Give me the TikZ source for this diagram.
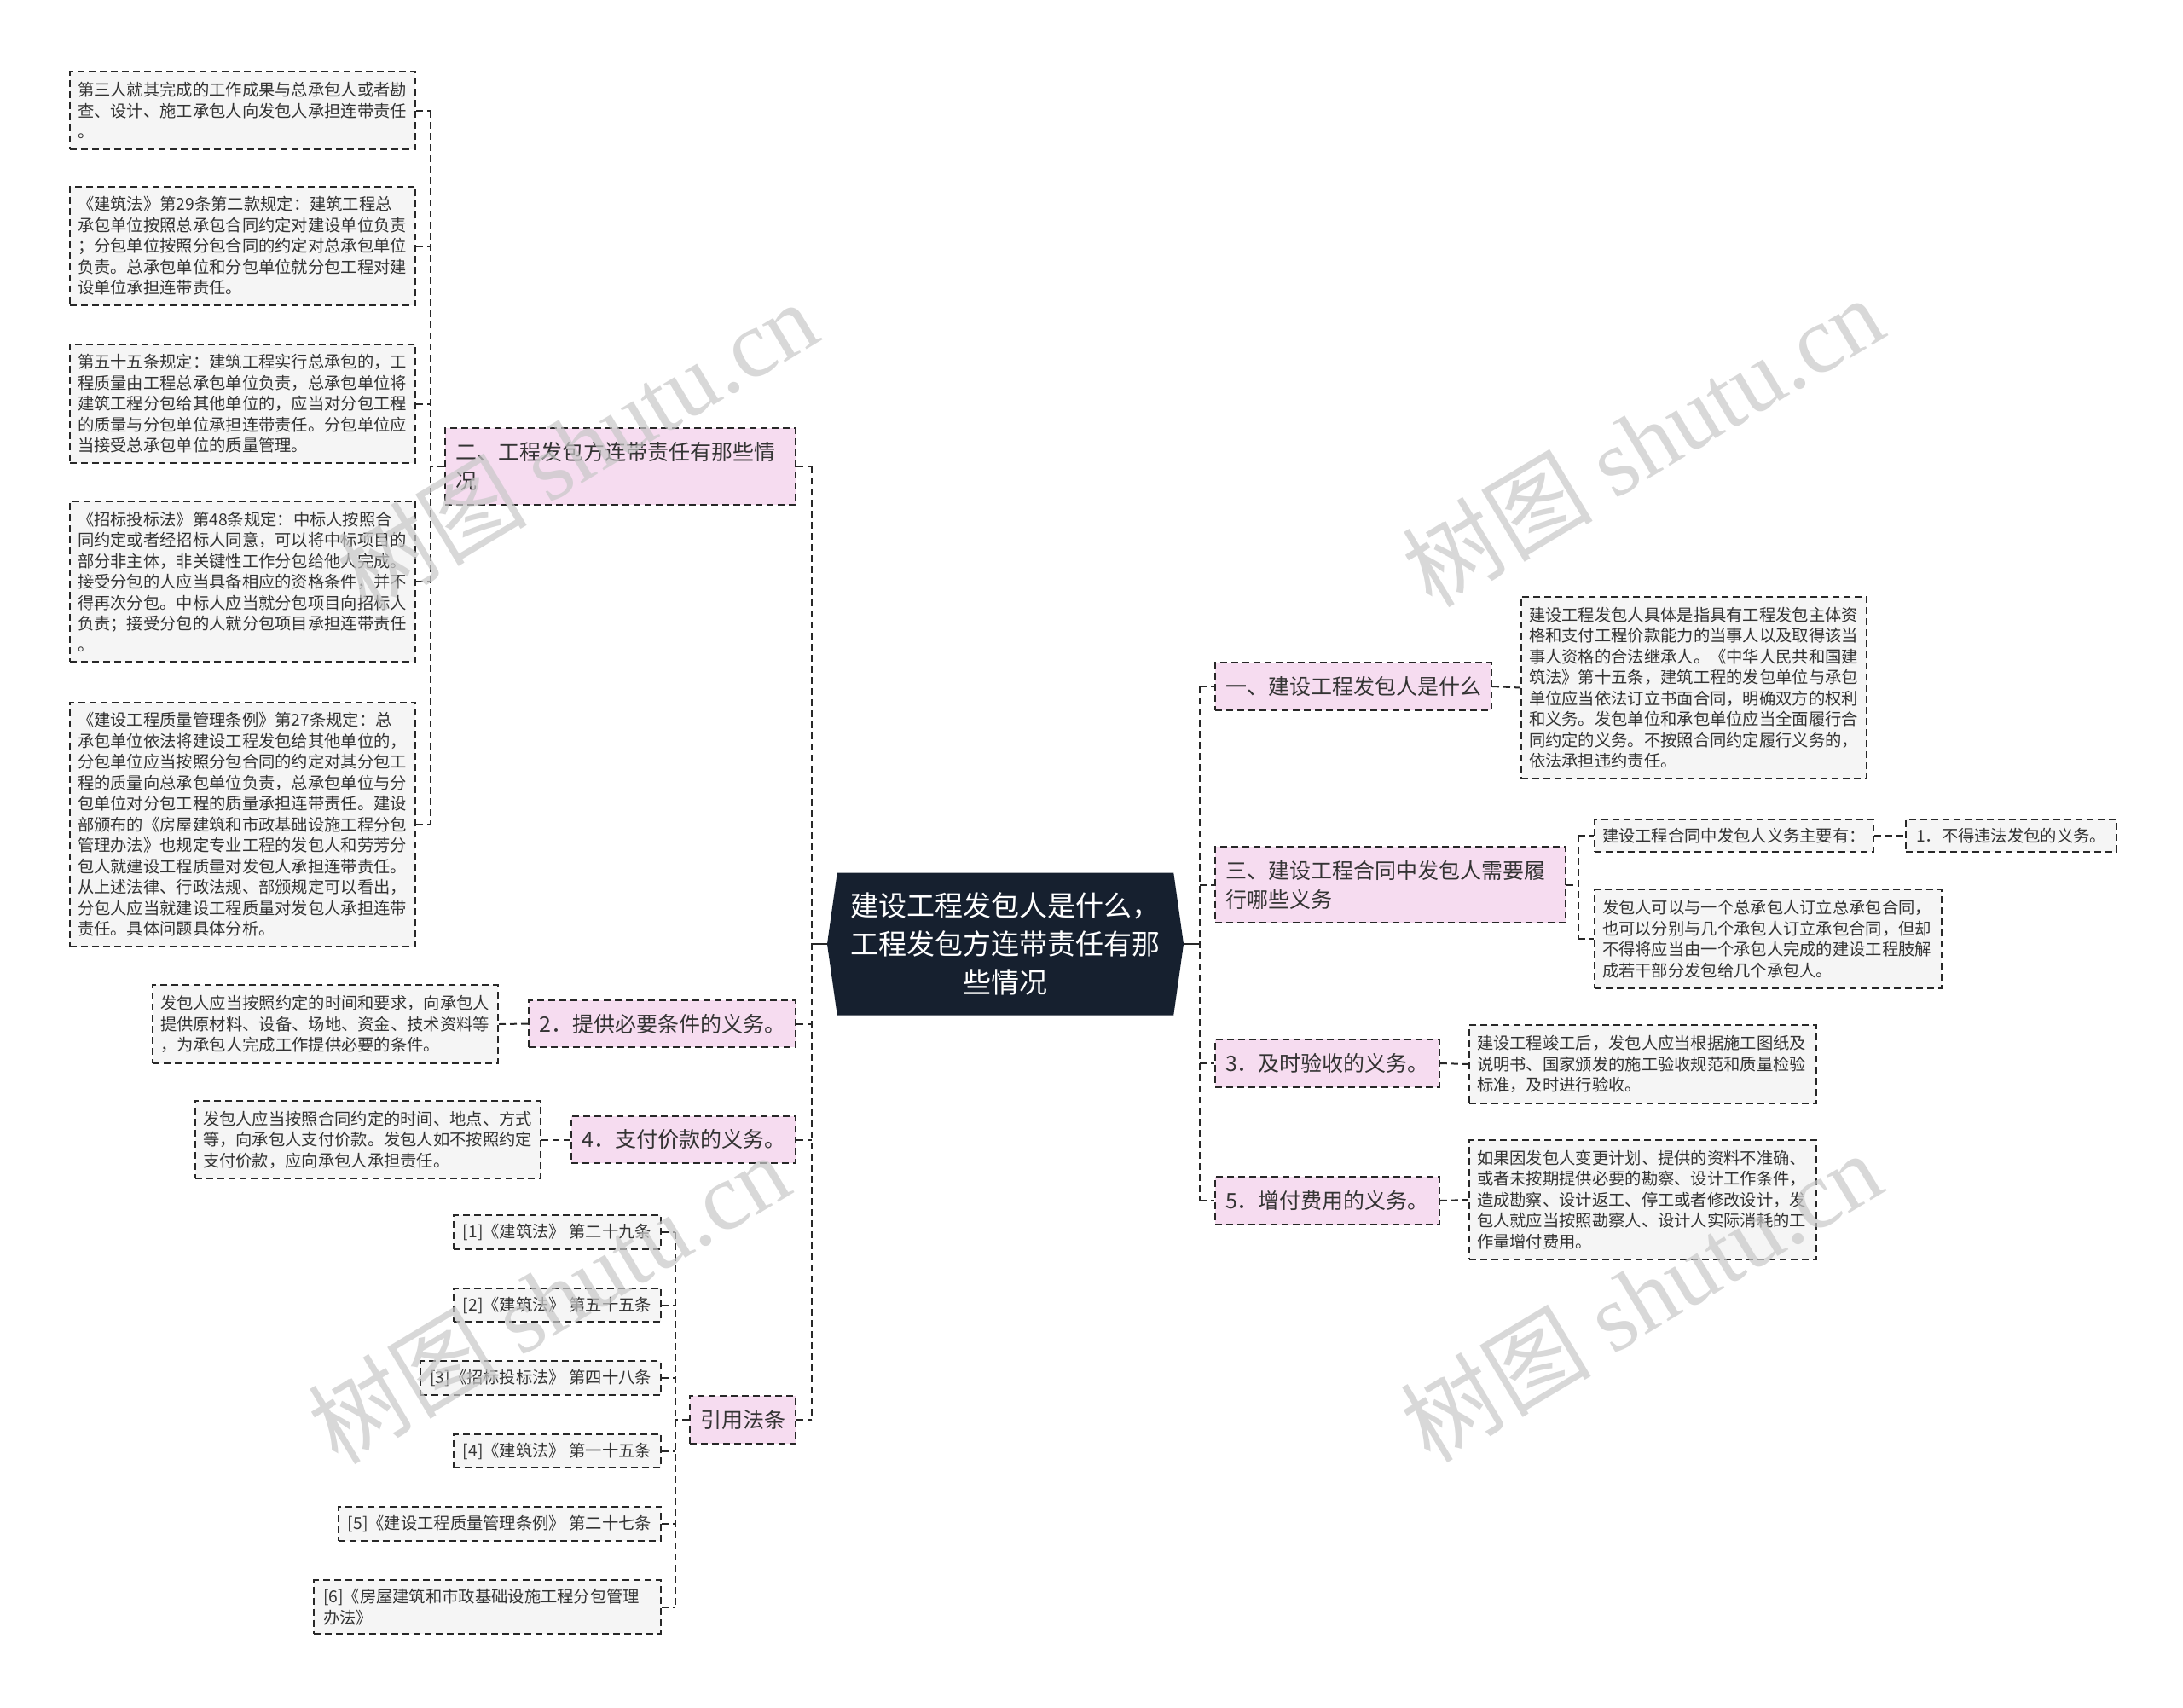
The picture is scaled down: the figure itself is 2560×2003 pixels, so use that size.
\documentclass[tikz,border=0pt]{standalone}
\usepackage{fontspec}
\newfontfamily\cjk{Noto Sans CJK SC}
\newfontfamily\latinserif{Liberation Serif}
\usetikzlibrary{shapes.symbols}

\definecolor{hubfill}{RGB}{22,32,47}
\definecolor{topicfill}{RGB}{246,220,240}
\definecolor{notefill}{RGB}{245,245,245}
\definecolor{linecol}{RGB}{40,40,40}
\definecolor{ink}{RGB}{51,51,51}
\definecolor{wmgray}{RGB}{200,200,200}

\begin{document}
\begin{tikzpicture}[x = 1pt, y = -1pt,
  link/.style = {draw = linecol, line width = 2pt, dash pattern = on 8pt off 5pt},
  dashbox/.style = {link, text = ink, align = left},
  topic/.style = {dashbox, fill = topicfill, font = \cjk\fontsize{25}{34}\selectfont,
  inner xsep = 12pt, inner ysep = 16pt},
  note/.style = {dashbox, fill = notefill, font = \cjk\fontsize{19.3}{24.5}\selectfont,
  inner xsep = 9pt, inner ysep = 12pt},
  slim/.style = {note, inner ysep = 10pt},
  wmark/.style = {text = wmgray, opacity = .7, rotate = 31,
  font = \cjk\fontsize{112}{112}\selectfont}]
  \fill[white] (0, 0) rectangle (2560, 2003);
  \useasboundingbox (0, 0) rectangle (2560, 2003);

  \node[signal, signal to = west and east, signal pointer angle = 164,
  fill = hubfill, text = white, font = \cjk\fontsize{33}{45}\selectfont,
  align = center, minimum width = 418pt, minimum height = 167pt,
  inner sep = 0pt] (C) at (1179, 1107)
  {建设工程发包人是什么，\\工程发包方连带责任有那\\些情况};

  \coordinate (TL) at (952, 0);
  \coordinate (TR) at (1407, 0);
  \coordinate (T1) at (505, 0);
  \coordinate (T4) at (792, 0);
  \coordinate (T2) at (1851, 0);

  % left side
  \node[topic, anchor = east, text width = 387pt] (L1) at (934, 547)
  {二、工程发包方连带责任有那些情\\况};
  \node[note, anchor = east, text width = 387pt] (L1T1) at (488, 129.5)
  {第三人就其完成的工作成果与总承包人或者勘\\查、设计、施工承包人向发包人承担连带责任\\。};
  \node[note, anchor = east, text width = 387pt] (L1T2) at (488, 288.5)
  {《建筑法》第29条第二款规定：建筑工程总\\承包单位按照总承包合同约定对建设单位负责\\；分包单位按照分包合同的约定对总承包单位\\负责。总承包单位和分包单位就分包工程对建\\设单位承担连带责任。};
  \node[note, anchor = east, text width = 387pt] (L1T3) at (488, 473.5)
  {第五十五条规定：建筑工程实行总承包的，工\\程质量由工程总承包单位负责，总承包单位将\\建筑工程分包给其他单位的，应当对分包工程\\的质量与分包单位承担连带责任。分包单位应\\当接受总承包单位的质量管理。};
  \node[note, anchor = east, text width = 387pt] (L1T4) at (488, 682)
  {《招标投标法》第48条规定：中标人按照合\\同约定或者经招标人同意，可以将中标项目的\\部分非主体，非关键性工作分包给他人完成。\\接受分包的人应当具备相应的资格条件，并不\\得再次分包。中标人应当就分包项目向招标人\\负责；接受分包的人就分包项目承担连带责任\\。};
  \node[note, anchor = east, text width = 387pt] (L1T5) at (488, 967)
  {《建设工程质量管理条例》第27条规定：总\\承包单位依法将建设工程发包给其他单位的，\\分包单位应当按照分包合同的约定对其分包工\\程的质量向总承包单位负责，总承包单位与分\\包单位对分包工程的质量承担连带责任。建设\\部颁布的《房屋建筑和市政基础设施工程分包\\管理办法》也规定专业工程的发包人和劳芳分\\包人就建设工程质量对发包人承担连带责任。\\从上述法律、行政法规、部颁规定可以看出，\\分包人应当就建设工程质量对发包人承担连带\\责任。具体问题具体分析。};

  \node[topic, anchor = east] (L2) at (934, 1200.5) {2．提供必要条件的义务。};
  \node[note, anchor = east, text width = 387pt] (L2T) at (585, 1201)
  {发包人应当按照约定的时间和要求，向承包人\\提供原材料、设备、场地、资金、技术资料等\\，为承包人完成工作提供必要的条件。};

  \node[topic, anchor = east] (L3) at (934, 1336.5) {4．支付价款的义务。};
  \node[note, anchor = east, text width = 387pt] (L3T) at (635, 1336.5)
  {发包人应当按照合同约定的时间、地点、方式\\等，向承包人支付价款。发包人如不按照约定\\支付价款，应向承包人承担责任。};

  \node[topic, anchor = east] (L4) at (934, 1665) {引用法条};
  \node[slim, anchor = east, inner xsep = 11pt] (L4T1) at (776, 1445) {[1]《建筑法》 第二十九条};
  \node[slim, anchor = east, inner xsep = 11pt] (L4T2) at (776, 1530.5) {[2]《建筑法》 第五十五条};
  \node[slim, anchor = east, inner xsep = 11pt] (L4T3) at (776, 1616) {[3]《招标投标法》 第四十八条};
  \node[slim, anchor = east, inner xsep = 11pt] (L4T4) at (776, 1701.5) {[4]《建筑法》 第一十五条};
  \node[slim, anchor = east, inner xsep = 11pt] (L4T5) at (776, 1787) {[5]《建设工程质量管理条例》 第二十七条};
  \node[slim, anchor = east, inner xsep = 11pt, text width = 385pt] (L4T6) at (776, 1884.5)
  {[6]《房屋建筑和市政基础设施工程分包管理\\办法》};

  % right side
  \node[topic, anchor = west] (R1) at (1424, 805) {一、建设工程发包人是什么};
  \node[note, anchor = west, text width = 387pt] (R1T) at (1783, 806.5)
  {建设工程发包人具体是指具有工程发包主体资\\格和支付工程价款能力的当事人以及取得该当\\事人资格的合法继承人。《中华人民共和国建\\筑法》第十五条，建筑工程的发包单位与承包\\单位应当依法订立书面合同，明确双方的权利\\和义务。发包单位和承包单位应当全面履行合\\同约定的义务。不按照合同约定履行义务的，\\依法承担违约责任。};

  \node[topic, anchor = west, text width = 387pt] (R2) at (1424, 1037.5)
  {三、建设工程合同中发包人需要履\\行哪些义务};
  \node[slim, anchor = west] (R2S1) at (1869, 980) {建设工程合同中发包人义务主要有：};
  \node[slim, anchor = west, inner xsep = 12pt] (R2S1a) at (2234, 980) {1．不得违法发包的义务。};
  \node[note, anchor = west, text width = 389pt] (R2S2) at (1869, 1101)
  {发包人可以与一个总承包人订立总承包合同，\\也可以分别与几个承包人订立承包合同，但却\\不得将应当由一个承包人完成的建设工程肢解\\成若干部分发包给几个承包人。};

  \node[topic, anchor = west] (R3) at (1424, 1247) {3．及时验收的义务。};
  \node[note, anchor = west, text width = 389pt] (R3T) at (1722, 1248)
  {建设工程竣工后，发包人应当根据施工图纸及\\说明书、国家颁发的施工验收规范和质量检验\\标准，及时进行验收。};

  \node[topic, anchor = west] (R4) at (1424, 1408) {5．增付费用的义务。};
  \node[note, anchor = west, text width = 389pt] (R4T) at (1722, 1407)
  {如果因发包人变更计划、提供的资料不准确、\\或者未按期提供必要的勘察、设计工作条件，\\造成勘察、设计返工、停工或者修改设计，发\\包人就应当按照勘察人、设计人实际消耗的工\\作量增付费用。};

  % connectors
  \draw[draw = linecol, line width = 2pt] (C.west) -- (C.west -| TL);
  \draw[draw = linecol, line width = 2pt] (C.east) -- (C.east -| TR);
  \draw[link] (L1.east -| TL) -- (L4.east -| TL);
  \draw[link] (R1.west -| TR) -- (R4.west -| TR);
  \foreach \n in {L1, L2, L3, L4}
    \draw[link] (\n.east) -- (\n.east -| TL);
  \foreach \n in {R1, R2, R3, R4}
    \draw[link] (\n.west -| TR) -- (\n.west);

  \draw[link] (L1.west) -- (L1.west -| T1);
  \draw[link] (L1T1.east -| T1) -- (L1T5.east -| T1);
  \foreach \n in {L1T1, L1T2, L1T3, L1T4, L1T5}
    \draw[link] (\n.east) -- (\n.east -| T1);

  \draw[link] (L4.west) -- (L4.west -| T4);
  \draw[link] (L4T1.east -| T4) -- (L4T6.east -| T4);
  \foreach \n in {L4T1, L4T2, L4T3, L4T4, L4T5, L4T6}
    \draw[link] (\n.east) -- (\n.east -| T4);

  \draw[link] (R2.east) -- (R2.east -| T2);
  \draw[link] (R2S1.west -| T2) -- (R2S2.west -| T2);
  \foreach \n in {R2S1, R2S2}
    \draw[link] (\n.west -| T2) -- (\n.west);

  \draw[link] (L2T.east) -- (L2.west);
  \draw[link] (L3T.east) -- (L3.west);
  \draw[link] (R1.east) -- (R1T.west);
  \draw[link] (R2S1.east) -- (R2S1a.west);
  \draw[link] (R3.east) -- (R3T.west);
  \draw[link] (R4.east) -- (R4T.west);

  % watermarks
  \node[wmark] (W1) at (676, 522) {树图 {\latinserif shutu.cn}};
  \node[wmark] (W2) at (1926, 517) {树图 {\latinserif shutu.cn}};
  \node[wmark] (W3) at (643, 1522) {树图 {\latinserif shutu.cn}};
  \node[wmark] (W4) at (1924, 1520) {树图 {\latinserif shutu.cn}};
\end{tikzpicture}
\end{document}
